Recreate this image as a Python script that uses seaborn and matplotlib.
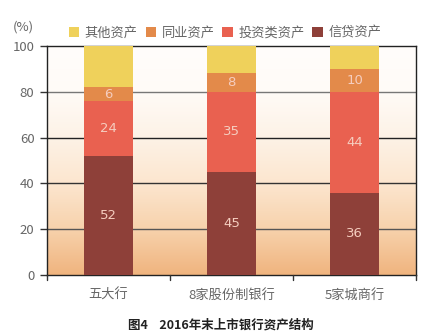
import numpy as np
import pandas as pd
import matplotlib
matplotlib.use("Agg")
import matplotlib.pyplot as plt
import seaborn as sns
from matplotlib.colors import LinearSegmentedColormap
from matplotlib.patches import Patch

categories = ["五大行", "8家股份制银行", "5家城商行"]
credit = [52, 45, 36]
invest = [24, 35, 44]
interbank = [6, 8, 10]
other = [18, 12, 10]
series_names = ["其他资产", "同业资产", "投资类资产", "信贷资产"]
colors = {"其他资产": "#efd15b", "同业资产": "#e38a4a", "投资类资产": "#e96150", "信贷资产": "#8e4039"}

sns.set_theme(style="white")
plt.rcParams['font.family'] = ['Noto Sans CJK SC', 'DejaVu Sans']

fig = plt.figure(figsize=(4.42, 3.33), dpi=100)
ax = fig.add_axes([47/442, 58/333, 369/442, 229/333])

# gradient background
cmap = LinearSegmentedColormap.from_list(
    "bg", [(0.0, "#f0b47e"), (0.2, "#f7d2ac"), (0.4, "#fce6cf"), (0.6, "#fdf2e6"), (0.8, "#fffbf7"), (1.0, "#fffdfb")])
grad = np.linspace(0, 1, 256).reshape(-1, 1)
ax.imshow(grad, aspect="auto", cmap=cmap, origin="lower",
          extent=(0, 1, 0, 1), transform=ax.transAxes, zorder=0)

df = pd.DataFrame({"cat": categories, "信贷资产": credit, "投资类资产": invest,
                   "同业资产": interbank, "其他资产": other})
df["c1"] = df["信贷资产"]
df["c2"] = df["c1"] + df["投资类资产"]
df["c3"] = df["c2"] + df["同业资产"]
df["c4"] = df["c3"] + df["其他资产"]

layers = [("c4", "其他资产"), ("c3", "同业资产"), ("c2", "投资类资产"), ("c1", "信贷资产")]
for col, name in layers:
    sns.barplot(data=df, x="cat", y=col, color=colors[name], width=0.4,
                saturation=1, ax=ax, zorder=3, edgecolor="none")

# value labels
for i in range(len(categories)):
    segs = [(0, credit[i]), (credit[i], invest[i]), (credit[i] + invest[i], interbank[i])]
    for b, h in segs:
        ax.text(i, b + h / 2, f"{h}", ha="center", va="center", color="#f5cdbf",
                fontsize=9.5, zorder=5, family=['DejaVu Sans'])

ax.set_xlim(-0.5, 2.5)
ax.set_ylim(0, 100)
ax.set_yticks([0, 20, 40, 60, 80, 100])
ax.set_xticks([0, 1, 2])
ax.set_xticklabels(categories, color="#666666", fontsize=9.5)
ax.tick_params(axis="y", labelsize=9.5, labelcolor="#666666", left=True, length=5, width=1, color="#333333", pad=4)
ax.tick_params(axis="x", bottom=False, pad=4)
for x in [-0.5, 0.5, 1.5, 2.5]:
    ax.plot([x, x], [0, -2.2], color="#333333", lw=1, clip_on=False, zorder=6)
ax.set_xlabel("")
ax.set_ylabel("")
for y, c in [(20, "#555555"), (40, "#333333"), (60, "#222222"), (80, "#777777")]:
    ax.axhline(y, color=c, lw=1, zorder=1)
for s in ax.spines.values():
    s.set_visible(True)
    s.set_color("#222222")
    s.set_linewidth(1)

handles = [Patch(facecolor=colors[n], edgecolor="none", label=n) for n in series_names]
fig.legend(handles=handles, loc="center", bbox_to_anchor=(225/442, 1 - 33/333), ncol=4, frameon=False,
           fontsize=9.5, handlelength=0.8, handleheight=0.8, handletextpad=0.4, columnspacing=0.6,
           labelcolor="#666666")
fig.text(13/442, 1 - 27/333, "(%)", fontsize=9.5, color="#666666", va="center", ha="left")
fig.text(0.5, 1 - 325/333, "图4    2016年末上市银行资产结构", fontsize=9, fontweight="bold",
         ha="center", va="center", color="#222222")

fig.savefig("out.png", dpi=100)
